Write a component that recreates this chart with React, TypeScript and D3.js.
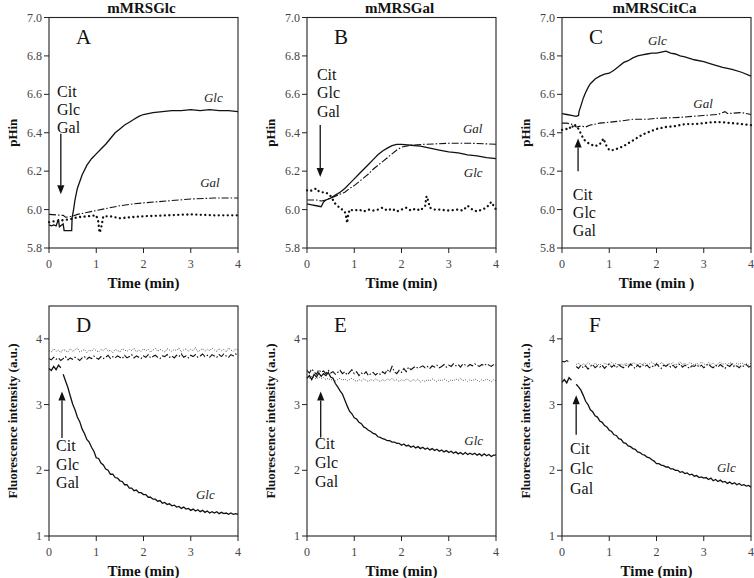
import React from 'react';
import * as d3 from 'd3';

type Pt = [number, number];

// ---------- tick values ----------
const timeTicks = [0, 1, 2, 3, 4];
const phTicks = [5.8, 6.0, 6.2, 6.4, 6.6, 6.8, 7.0];
const fluoTicks = [1, 2, 3, 4];
const addLines = ['Cit', 'Glc', 'Gal'];

// ---------- pH data (time min, pHin) ----------
const aGlc: Pt[] = [[0,5.92],[0.05,5.915],[0.1,5.92],[0.15,5.915],[0.2,5.95],[0.22,5.91],[0.3,5.925],[0.32,5.89],[0.4,5.89],[0.48,5.89],[0.49,5.96],[0.52,6.0],[0.55,6.05],[0.6,6.11],[0.7,6.18],[0.8,6.23],[0.9,6.265],[1.0,6.29],[1.1,6.315],[1.2,6.34],[1.3,6.37],[1.4,6.40],[1.5,6.42],[1.6,6.44],[1.7,6.455],[1.8,6.47],[1.9,6.485],[2.0,6.495],[2.2,6.505],[2.4,6.51],[2.6,6.515],[2.8,6.515],[3.0,6.52],[3.2,6.515],[3.4,6.52],[3.6,6.515],[3.8,6.515],[4.0,6.51]];
const aGal: Pt[] = [[0,5.975],[0.3,5.97],[0.35,5.96],[0.5,5.965],[0.6,5.975],[0.8,5.985],[1.0,5.995],[1.2,6.005],[1.5,6.02],[1.8,6.03],[2.0,6.035],[2.5,6.045],[3.0,6.055],[3.5,6.06],[4.0,6.06]];
const aCit: Pt[] = [[0,5.935],[0.15,5.94],[0.3,5.945],[0.45,5.95],[0.6,5.96],[0.8,5.965],[1.0,5.97],[1.04,5.94],[1.07,5.88],[1.1,5.9],[1.13,5.94],[1.15,5.965],[1.3,5.965],[1.5,5.955],[1.7,5.96],[2.0,5.965],[2.5,5.97],[3.0,5.975],[3.5,5.97],[4.0,5.97]];

const bGlc: Pt[] = [[0,6.03],[0.1,6.025],[0.2,6.02],[0.3,6.015],[0.35,6.04],[0.4,6.05],[0.5,6.06],[0.6,6.075],[0.7,6.09],[0.8,6.11],[0.9,6.135],[1.0,6.16],[1.1,6.185],[1.2,6.21],[1.3,6.235],[1.4,6.26],[1.5,6.285],[1.6,6.305],[1.7,6.32],[1.8,6.333],[1.9,6.34],[2.0,6.34],[2.2,6.335],[2.4,6.33],[2.6,6.32],[2.8,6.31],[3.0,6.30],[3.2,6.295],[3.4,6.285],[3.6,6.28],[3.8,6.27],[4.0,6.265]];
const bGal: Pt[] = [[0,6.05],[0.2,6.05],[0.3,6.045],[0.4,6.05],[0.5,6.06],[0.6,6.07],[0.7,6.08],[0.8,6.09],[0.9,6.11],[1.0,6.125],[1.1,6.145],[1.2,6.165],[1.3,6.185],[1.4,6.21],[1.5,6.23],[1.6,6.25],[1.7,6.27],[1.8,6.29],[1.9,6.31],[2.0,6.325],[2.2,6.335],[2.5,6.34],[3.0,6.345],[3.5,6.345],[4.0,6.34]];
const bCit: Pt[] = [[0,6.10],[0.05,6.095],[0.1,6.10],[0.2,6.11],[0.25,6.095],[0.3,6.09],[0.4,6.09],[0.45,6.08],[0.5,6.07],[0.55,6.05],[0.6,6.03],[0.65,6.02],[0.7,6.005],[0.75,6.0],[0.8,5.99],[0.83,5.96],[0.85,5.93],[0.87,5.97],[0.9,6.0],[1.0,5.995],[1.1,6.0],[1.2,5.99],[1.3,6.0],[1.4,5.995],[1.5,6.0],[1.6,6.01],[1.7,5.995],[1.8,6.005],[1.9,5.99],[2.0,6.0],[2.1,6.01],[2.2,5.995],[2.3,6.005],[2.4,5.995],[2.5,6.02],[2.53,6.07],[2.56,6.05],[2.6,6.01],[2.7,6.0],[2.8,6.0],[3.0,5.995],[3.2,6.0],[3.3,5.995],[3.4,6.02],[3.5,6.0],[3.6,5.99],[3.7,6.0],[3.8,6.01],[3.9,6.04],[4.0,6.0]];

const cGlc: Pt[] = [[0,6.50],[0.1,6.495],[0.2,6.49],[0.3,6.485],[0.35,6.49],[0.36,6.51],[0.4,6.54],[0.45,6.58],[0.5,6.61],[0.55,6.635],[0.6,6.655],[0.7,6.68],[0.8,6.695],[0.9,6.705],[1.0,6.71],[1.1,6.725],[1.2,6.745],[1.3,6.765],[1.4,6.775],[1.5,6.79],[1.6,6.80],[1.7,6.805],[1.8,6.81],[1.9,6.815],[2.0,6.815],[2.1,6.82],[2.2,6.825],[2.3,6.815],[2.4,6.81],[2.5,6.80],[2.6,6.795],[2.8,6.78],[3.0,6.77],[3.2,6.755],[3.4,6.74],[3.6,6.73],[3.8,6.715],[4.0,6.695]];
const cGal: Pt[] = [[0,6.45],[0.1,6.45],[0.2,6.445],[0.3,6.43],[0.4,6.435],[0.5,6.43],[0.6,6.44],[0.8,6.45],[1.0,6.455],[1.2,6.46],[1.5,6.47],[1.8,6.47],[2.0,6.475],[2.5,6.48],[3.0,6.49],[3.3,6.495],[3.45,6.51],[3.5,6.50],[3.8,6.505],[4.0,6.495]];
const cCit: Pt[] = [[0,6.415],[0.1,6.42],[0.15,6.43],[0.2,6.42],[0.25,6.445],[0.3,6.435],[0.35,6.42],[0.4,6.395],[0.45,6.37],[0.5,6.355],[0.6,6.34],[0.7,6.33],[0.8,6.34],[0.85,6.36],[0.88,6.37],[0.92,6.34],[0.95,6.33],[1.0,6.31],[1.1,6.31],[1.2,6.32],[1.3,6.33],[1.4,6.345],[1.5,6.36],[1.6,6.375],[1.7,6.39],[1.8,6.40],[1.9,6.41],[2.0,6.42],[2.2,6.43],[2.4,6.435],[2.6,6.445],[2.8,6.445],[3.0,6.45],[3.2,6.455],[3.4,6.455],[3.6,6.45],[3.8,6.445],[4.0,6.44]];

// ---------- fluorescence data (sampled every 0.05 min from given start) ----------
const fluoStep = 0.05;
const dDot = [3.82,3.80,3.85,3.81,3.83,3.79,3.84,3.82,3.80,3.85,3.81,3.83,3.86,3.80,3.82,3.84,3.79,3.83,3.81,3.85,3.82,3.80,3.84,3.82,3.86,3.81,3.83,3.79,3.84,3.82,3.80,3.85,3.83,3.81,3.84,3.82,3.86,3.80,3.83,3.81,3.85,3.82,3.84,3.80,3.83,3.86,3.81,3.84,3.82,3.80,3.85,3.83,3.81,3.84,3.82,3.86,3.80,3.83,3.85,3.81,3.84,3.82,3.87,3.80,3.83,3.85,3.81,3.84,3.82,3.86,3.83,3.81,3.85,3.82,3.84,3.80,3.86,3.83,3.81,3.85,3.83];
const dDash = [3.70,3.68,3.72,3.69,3.71,3.67,3.70,3.73,3.68,3.71,3.69,3.72,3.70,3.67,3.71,3.73,3.69,3.72,3.70,3.74,3.71,3.69,3.73,3.70,3.72,3.75,3.70,3.73,3.71,3.74,3.72,3.70,3.75,3.71,3.73,3.76,3.71,3.74,3.72,3.70,3.74,3.72,3.76,3.71,3.73,3.75,3.72,3.70,3.74,3.73,3.76,3.72,3.74,3.71,3.75,3.73,3.77,3.72,3.74,3.71,3.75,3.73,3.76,3.72,3.74,3.77,3.73,3.75,3.72,3.76,3.74,3.72,3.76,3.73,3.77,3.74,3.72,3.76,3.74,3.77,3.75];
const dGlcPre = [3.55,3.52,3.58,3.53,3.60,3.56];
const dGlcPost = [3.46,3.36,3.26,3.13,3.01,2.92,2.81,2.74,2.63,2.56,2.47,2.43,2.35,2.29,2.19,2.18,2.11,2.08,2.02,2.00,1.94,1.94,1.89,1.88,1.84,1.83,1.78,1.78,1.73,1.73,1.69,1.70,1.66,1.66,1.63,1.63,1.59,1.59,1.56,1.56,1.53,1.54,1.50,1.51,1.48,1.49,1.46,1.47,1.44,1.45,1.42,1.44,1.41,1.42,1.39,1.41,1.38,1.40,1.37,1.39,1.36,1.38,1.35,1.37,1.35,1.37,1.34,1.36,1.34,1.35,1.33,1.35,1.33,1.34,1.33];

const eDash = [3.52,3.48,3.54,3.50,3.46,3.53,3.49,3.51,3.47,3.52,3.48,3.50,3.46,3.49,3.52,3.47,3.50,3.45,3.49,3.53,3.47,3.50,3.44,3.48,3.46,3.50,3.44,3.47,3.49,3.45,3.48,3.46,3.50,3.47,3.53,3.49,3.58,3.50,3.47,3.52,3.49,3.55,3.50,3.57,3.53,3.56,3.58,3.55,3.57,3.59,3.56,3.58,3.55,3.59,3.57,3.60,3.56,3.58,3.61,3.57,3.60,3.58,3.62,3.59,3.61,3.57,3.62,3.60,3.58,3.61,3.59,3.62,3.60,3.58,3.61,3.59,3.62,3.60,3.58,3.61,3.60];
const eDot = [3.42,3.40,3.43,3.41,3.39,3.42,3.40,3.41,3.38,3.40,3.37,3.39,3.36,3.38,3.40,3.37,3.39,3.36,3.38,3.40,3.37,3.35,3.38,3.36,3.39,3.37,3.35,3.38,3.36,3.39,3.37,3.35,3.38,3.36,3.39,3.37,3.40,3.36,3.38,3.35,3.38,3.36,3.39,3.37,3.35,3.38,3.36,3.39,3.34,3.37,3.35,3.38,3.36,3.39,3.37,3.35,3.38,3.36,3.39,3.37,3.35,3.38,3.36,3.39,3.37,3.40,3.36,3.38,3.35,3.38,3.36,3.39,3.37,3.35,3.38,3.36,3.39,3.37,3.35,3.38,3.36];
const eGlc = [3.40,3.44,3.38,3.46,3.42,3.48,3.43,3.47,3.44,3.49,3.42,3.40,3.32,3.27,3.21,3.16,3.07,2.98,2.90,2.86,2.80,2.78,2.73,2.71,2.66,2.64,2.61,2.59,2.56,2.55,2.51,2.50,2.48,2.47,2.45,2.45,2.43,2.43,2.41,2.41,2.38,2.40,2.37,2.38,2.35,2.37,2.34,2.36,2.33,2.35,2.32,2.34,2.31,2.33,2.30,2.32,2.29,2.31,2.28,2.30,2.27,2.29,2.26,2.28,2.25,2.27,2.24,2.27,2.24,2.26,2.24,2.26,2.23,2.25,2.22,2.25,2.22,2.24,2.21,2.23,2.23];

const fDashPre = [3.66,3.65,3.67,3.65];
const fDash = [3.58,3.55,3.60,3.56,3.59,3.54,3.58,3.61,3.56,3.59,3.57,3.60,3.55,3.59,3.62,3.57,3.60,3.56,3.61,3.58,3.56,3.60,3.57,3.62,3.58,3.55,3.60,3.57,3.61,3.58,3.60,3.56,3.59,3.57,3.62,3.58,3.55,3.60,3.58,3.61,3.57,3.60,3.56,3.59,3.62,3.57,3.60,3.58,3.55,3.59,3.58,3.61,3.57,3.60,3.56,3.59,3.62,3.58,3.56,3.60,3.57,3.61,3.58,3.55,3.60,3.58,3.62,3.57,3.59,3.56,3.60,3.58,3.61,3.57,3.59];
const fDot = [3.61,3.63,3.59,3.62,3.60,3.64,3.61,3.59,3.63,3.60,3.62,3.59,3.63,3.61,3.60,3.64,3.61,3.63,3.59,3.62,3.60,3.63,3.61,3.59,3.64,3.62,3.60,3.63,3.61,3.64,3.60,3.62,3.65,3.61,3.63,3.60,3.64,3.62,3.59,3.63,3.61,3.64,3.60,3.62,3.65,3.61,3.63,3.60,3.64,3.62,3.60,3.63,3.61,3.65,3.62,3.60,3.64,3.61,3.63,3.60,3.62,3.65,3.61,3.63,3.60,3.64,3.62,3.60,3.63,3.61,3.64,3.61,3.62,3.60,3.63];
const fGlcPre = [3.34,3.38,3.33,3.41,3.37];
const fGlcPost = [3.31,3.27,3.22,3.14,3.05,3.00,2.92,2.89,2.83,2.81,2.75,2.73,2.68,2.66,2.61,2.59,2.54,2.53,2.48,2.47,2.42,2.41,2.37,2.36,2.33,2.32,2.28,2.27,2.24,2.23,2.20,2.19,2.16,2.14,2.10,2.10,2.08,2.07,2.05,2.05,2.02,2.02,2.00,2.00,1.97,1.98,1.95,1.96,1.93,1.94,1.91,1.92,1.89,1.90,1.88,1.89,1.86,1.88,1.84,1.86,1.83,1.85,1.82,1.83,1.80,1.82,1.79,1.81,1.78,1.80,1.77,1.78,1.76,1.77,1.74];

const sampled = (t0: number, vals: number[]): Pt[] => vals.map((v, i) => [t0 + i * fluoStep, v]);

type Style = 'solid' | 'dashdot' | 'dotted' | 'fdotted';
interface Series { pts: Pt[]; style: Style }
interface Label { text: string; t: number; v: number }
interface PanelCfg {
  col: number; row: number; letter: string; title?: string; xLabel: string;
  yLabel: string; yDomain: [number, number]; yTicks: number[]; yFmt: (v: number) => string;
  series: Series[];
  arrow: { t: number; from: number; to: number };
  addText: { t: number; vs: number[] };
  labels: Label[];
}

const fmt1 = d3.format('.1f');
const fmt0 = (v: number) => String(v);

const panels: PanelCfg[] = [
  { col: 0, row: 0, letter: 'A', title: 'mMRSGlc', xLabel: 'Time (min)', yLabel: 'pHin', yDomain: [5.8, 7.0], yTicks: phTicks, yFmt: fmt1,
    series: [{ pts: aCit, style: 'dotted' }, { pts: aGal, style: 'dashdot' }, { pts: aGlc, style: 'solid' }],
    arrow: { t: 0.25, from: 6.395, to: 6.08 }, addText: { t: 0.17, vs: [6.586, 6.49, 6.40] },
    labels: [{ text: 'Glc', t: 3.28, v: 6.56 }, { text: 'Gal', t: 3.2, v: 6.12 }] },
  { col: 1, row: 0, letter: 'B', title: 'mMRSGal', xLabel: 'Time (min)', yLabel: 'pHin', yDomain: [5.8, 7.0], yTicks: phTicks, yFmt: fmt1,
    series: [{ pts: bCit, style: 'dotted' }, { pts: bGal, style: 'dashdot' }, { pts: bGlc, style: 'solid' }],
    arrow: { t: 0.28, from: 6.44, to: 6.17 }, addText: { t: 0.21, vs: [6.675, 6.58, 6.48] },
    labels: [{ text: 'Gal', t: 3.3, v: 6.40 }, { text: 'Glc', t: 3.32, v: 6.17 }] },
  { col: 2, row: 0, letter: 'C', title: 'mMRSCitCa', xLabel: 'Time (min )', yLabel: 'pHin', yDomain: [5.8, 7.0], yTicks: phTicks, yFmt: fmt1,
    series: [{ pts: cCit, style: 'dotted' }, { pts: cGal, style: 'dashdot' }, { pts: cGlc, style: 'solid' }],
    arrow: { t: 0.34, from: 6.2, to: 6.37 }, addText: { t: 0.23, vs: [6.05, 5.955, 5.86] },
    labels: [{ text: 'Glc', t: 1.82, v: 6.857 }, { text: 'Gal', t: 2.78, v: 6.53 }] },
  { col: 0, row: 1, letter: 'D', xLabel: 'Time (min)', yLabel: 'Fluorescence intensity (a.u.)', yDomain: [1, 4.5], yTicks: fluoTicks, yFmt: fmt0,
    series: [{ pts: sampled(0, dDot), style: 'fdotted' }, { pts: sampled(0, dDash), style: 'dashdot' }, { pts: sampled(0, dGlcPre), style: 'solid' }, { pts: sampled(0.3, dGlcPost), style: 'solid' }],
    arrow: { t: 0.275, from: 2.49, to: 3.2 }, addText: { t: 0.15, vs: [2.286, 2.0, 1.73] },
    labels: [{ text: 'Glc', t: 3.11, v: 1.56 }] },
  { col: 1, row: 1, letter: 'E', xLabel: 'Time (min)', yLabel: 'Fluorescence intensity (a.u.)', yDomain: [1, 4.5], yTicks: fluoTicks, yFmt: fmt0,
    series: [{ pts: sampled(0, eDot), style: 'fdotted' }, { pts: sampled(0, eDash), style: 'dashdot' }, { pts: sampled(0, eGlc), style: 'solid' }],
    arrow: { t: 0.29, from: 2.5, to: 3.2 }, addText: { t: 0.17, vs: [2.32, 2.03, 1.746] },
    labels: [{ text: 'Glc', t: 3.33, v: 2.385 }] },
  { col: 2, row: 1, letter: 'F', xLabel: 'Time (min)', yLabel: 'Fluorescence intensity (a.u.)', yDomain: [1, 4.5], yTicks: fluoTicks, yFmt: fmt0,
    series: [{ pts: sampled(0.3, fDot), style: 'fdotted' }, { pts: sampled(0, fDashPre), style: 'dashdot' }, { pts: sampled(0.3, fDash), style: 'dashdot' }, { pts: sampled(0, fGlcPre), style: 'solid' }, { pts: sampled(0.3, fGlcPost), style: 'solid' }],
    arrow: { t: 0.3, from: 2.54, to: 3.14 }, addText: { t: 0.17, vs: [2.25, 1.94, 1.64] },
    labels: [{ text: 'Glc', t: 3.28, v: 1.974 }] },
];

// ---------- layout ----------
const colLeft = [49, 307, 562];
const plotW = 189;
const rowTop = [17.5, 306];
const rowBottom = [248, 536];
const serif = 'Liberation Serif';

const styleProps: Record<Style, React.SVGProps<SVGPathElement>> = {
  solid: { stroke: '#111', strokeWidth: 1.3 },
  dashdot: { stroke: '#111', strokeWidth: 1.1, strokeDasharray: '7,2,1.5,2' },
  dotted: { stroke: '#111', strokeWidth: 2.3, strokeDasharray: '0.1,4.4', strokeLinecap: 'round' },
  fdotted: { stroke: '#444', strokeWidth: 0.9, strokeDasharray: '1,1.4' },
};

function Panel({ cfg }: { cfg: PanelCfg }) {
  const left = colLeft[cfg.col];
  const right = left + plotW;
  const top = rowTop[cfg.row];
  const bottom = rowBottom[cfg.row];
  const x = d3.scaleLinear().domain([0, 4]).range([left, right]);
  const y = d3.scaleLinear().domain(cfg.yDomain).range([bottom, top]);
  const line = d3.line<Pt>().x(d => x(d[0])).y(d => y(d[1]));
  const midY = (top + bottom) / 2;
  const ax = x(cfg.arrow.t);
  const ay1 = y(cfg.arrow.from);
  const ay2 = y(cfg.arrow.to);
  const dir = ay2 > ay1 ? 1 : -1;
  const headL = 9, headW = 3.6;
  return (
    <g>
      {cfg.title && (
        <text x={(left + right) / 2 - 2} y={13} textAnchor="middle" fontWeight="bold" fontSize={15} fill="#111">{cfg.title}</text>
      )}
      {cfg.series.map((s, i) => (
        <path key={i} d={line(s.pts) || ''} fill="none" {...styleProps[s.style]} />
      ))}
      <rect x={left} y={top} width={plotW} height={bottom - top} fill="none" stroke="#222" strokeWidth={1.1} />
      {cfg.yTicks.map(t => (
        <g key={'y' + t}>
          <line x1={left - 5} x2={left} y1={y(t)} y2={y(t)} stroke="#222" strokeWidth={1} />
          <text x={left - 7} y={y(t) + 4} textAnchor="end" fontSize={12} fill="#444">{cfg.yFmt(t)}</text>
        </g>
      ))}
      {timeTicks.map(t => (
        <g key={'x' + t}>
          <line x1={x(t)} x2={x(t)} y1={bottom} y2={bottom + 5} stroke="#222" strokeWidth={1} />
          <text x={x(t)} y={bottom + 20} textAnchor="middle" fontSize={12} fill="#444">{t}</text>
        </g>
      ))}
      <text x={(left + right) / 2} y={bottom + 40} textAnchor="middle" fontWeight="bold" fontSize={15} fill="#111">{cfg.xLabel}</text>
      <text transform={`translate(${left - 32},${midY}) rotate(-90)`} textAnchor="middle" fontWeight="bold" fontSize={13} fill="#111">{cfg.yLabel}</text>
      <text x={left + 27} y={top + 26} fontSize={21} fill="#111">{cfg.letter}</text>
      <line x1={ax} x2={ax} y1={ay1} y2={ay2 - dir * headL} stroke="#111" strokeWidth={1.3} />
      <path d={`M${ax},${ay2} L${ax - headW},${ay2 - dir * headL} L${ax + headW},${ay2 - dir * headL} Z`} fill="#111" />
      {addLines.map((s, i) => (
        <text key={s} x={x(cfg.addText.t)} y={y(cfg.addText.vs[i])} fontSize={16} fill="#111">{s}</text>
      ))}
      {cfg.labels.map(l => (
        <text key={l.text} x={x(l.t)} y={y(l.v)} fontStyle="italic" fontSize={13} fill="#222">{l.text}</text>
      ))}
    </g>
  );
}

export default function App() {
  return (
    <svg width={754} height={578} style={{ position: 'absolute', left: 0, top: 0, background: '#fff', fontFamily: serif }}>
      <rect x={0} y={0} width={754} height={578} fill="#fff" />
      {panels.map(p => <Panel key={p.letter} cfg={p} />)}
    </svg>
  );
}
